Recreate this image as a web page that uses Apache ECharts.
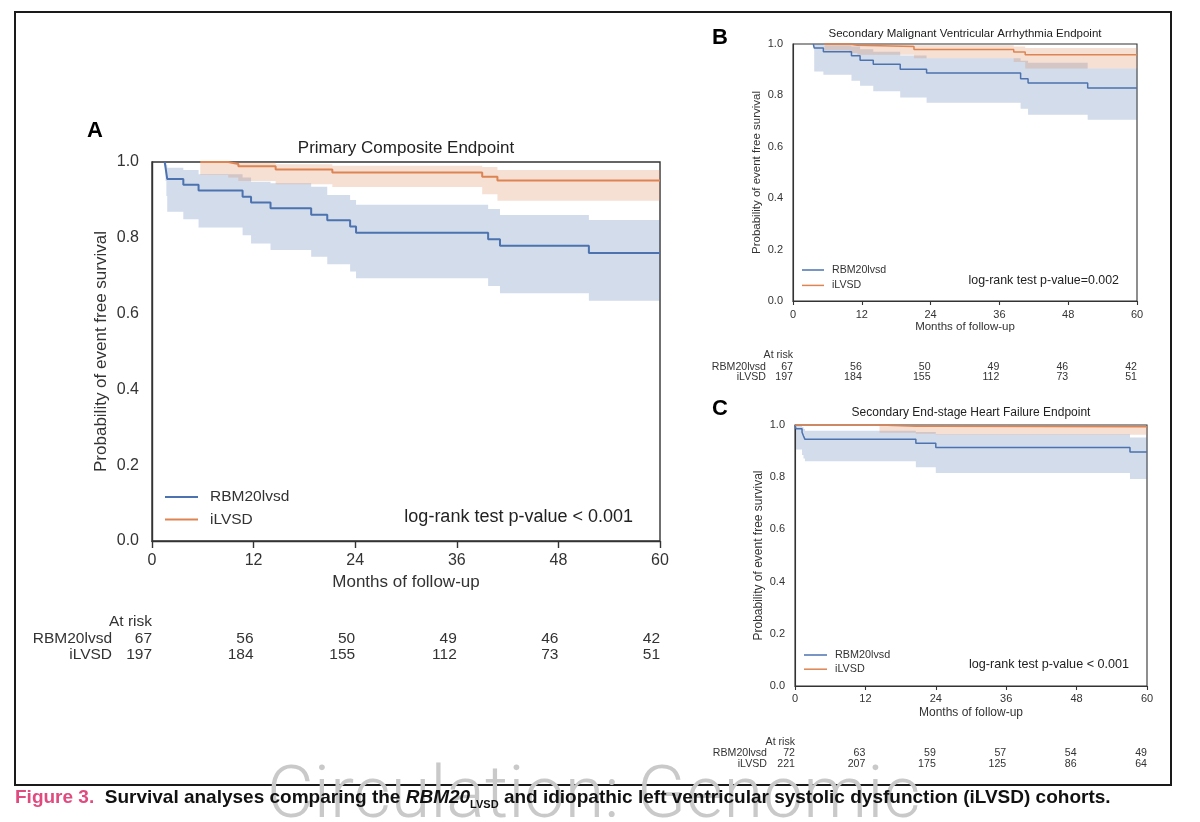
<!DOCTYPE html>
<html>
<head>
<meta charset="utf-8">
<title>Figure 3 - survival analyses</title>
<script src="https://cdn.jsdelivr.net/npm/echarts@6/dist/echarts.min.js"></script>
<style>
  html, body { margin: 0; padding: 0; background: #fff; }
  #main { width: 1200px; height: 822px; }
</style>
</head>
<body>
<div id="main"></div>
<script>
// ---- data (months, survival probability, 95% CI) ----
const riskMonths = [0, 12, 24, 36, 48, 60];

// A: primary composite endpoint
const aRbmT  = [1.5, 1.6, 1.7, 1.8, 3.7, 5.5, 10.7, 11.7, 14.0, 18.8, 20.7, 23.4, 24.1, 39.7, 41.1, 51.6, 60];
const aRbmS  = [1.0, 0.985, 0.970, 0.955, 0.940, 0.925, 0.908, 0.893, 0.878, 0.861, 0.846, 0.830, 0.813, 0.796, 0.779, 0.760, 0.760];
const aRbmLo = [1.0, 0.950, 0.910, 0.869, 0.849, 0.827, 0.807, 0.785, 0.768, 0.750, 0.730, 0.711, 0.693, 0.673, 0.654, 0.634, 0.634];
const aRbmHi = [1.0, 0.998, 0.992, 0.985, 0.979, 0.968, 0.959, 0.948, 0.944, 0.935, 0.913, 0.900, 0.887, 0.876, 0.860, 0.847, 0.847];
const aIlvT  = [5.7, 9.0, 10.2, 14.6, 21.3, 39.0, 40.8, 60];
const aIlvS  = [1.0, 0.995, 0.989, 0.980, 0.972, 0.961, 0.951, 0.951];
const aIlvLo = [0.966, 0.959, 0.950, 0.941, 0.934, 0.915, 0.898, 0.898];
const aIlvHi = [1.0, 1.0, 1.0, 0.994, 0.990, 0.987, 0.979, 0.979];
const aRiskRbm = [67, 56, 50, 49, 46, 42];
const aRiskIlv = [197, 184, 155, 112, 73, 51];

// B: secondary malignant ventricular arrhythmia endpoint
const bRbmT  = [3.55, 3.7, 5.3, 10.2, 11.7, 14.0, 18.7, 23.3, 39.7, 41.0, 51.4, 60];
const bRbmS  = [1.0, 0.984, 0.970, 0.954, 0.937, 0.921, 0.902, 0.887, 0.865, 0.848, 0.829, 0.829];
const bRbmLo = [1.0, 0.893, 0.880, 0.857, 0.838, 0.816, 0.792, 0.771, 0.748, 0.725, 0.705, 0.705];
const bRbmHi = [1.0, 1.0, 0.995, 0.990, 0.980, 0.970, 0.955, 0.945, 0.935, 0.927, 0.905, 0.905];
const bIlvT  = [5.5, 9.8, 11.2, 21.1, 38.5, 40.5, 60];
const bIlvS  = [1.0, 0.995, 0.990, 0.979, 0.969, 0.958, 0.958];
const bIlvLo = [0.975, 0.965, 0.958, 0.945, 0.930, 0.905, 0.905];
const bIlvHi = [1.0, 1.0, 1.0, 0.995, 0.990, 0.984, 0.984];
const bRiskRbm = [67, 56, 50, 49, 46, 42];
const bRiskIlv = [197, 184, 155, 112, 73, 51];

// C: secondary end-stage heart failure endpoint
const cRbmT  = [0, 0.15, 1.2, 1.45, 1.7, 20.6, 24.0, 57.1, 60];
const cRbmS  = [1.0, 0.986, 0.972, 0.958, 0.945, 0.930, 0.914, 0.897, 0.897];
const cRbmLo = [1.0, 0.906, 0.885, 0.872, 0.861, 0.838, 0.816, 0.793, 0.793];
const cRbmHi = [1.0, 0.998, 0.992, 0.985, 0.978, 0.973, 0.965, 0.952, 0.952];
const cIlvT  = [0, 14.4, 20.6, 24.0, 60];
const cIlvS  = [1.0, 0.995, 0.995, 0.993, 0.993];
const cIlvLo = [1.0, 0.970, 0.966, 0.963, 0.963];
const cIlvHi = [1.0, 1.0, 1.0, 0.999, 0.999];
const cRiskRbm = [72, 63, 59, 57, 54, 49];
const cRiskIlv = [221, 207, 175, 125, 86, 64];

const groups = ['RBM20lvsd', 'iLVSD'];
const BLUE = '#4c72b0';
const ORANGE = '#dd8452';
const BLUE_BAND = 'rgba(76,114,176,0.25)';
const ORANGE_BAND = 'rgba(221,132,82,0.25)';
const FONT = '"Liberation Sans", Arial, Helvetica, sans-serif';
const INK = '#333';

// layout of the three panels (pixels)
const panels = [
  { // A
    grid: { left: 152, top: 162, width: 508, height: 379 },
    risk: { left: 152, top: 631, width: 508, height: 32 },
    tick: 16, name: 17, xMargin: 12, yMargin: 13, xGap: 33, yGap: 42, tickLen: 7, lw: 1.4, line: 2,
    riskFont: 15.5, riskMargin: 40, riskGap: 9,
    title: 'Primary Composite Endpoint', titleX: 406, titleY: 148, titleSize: 17,
    letter: 'A', letterX: 87, letterY: 131,
    legend: { left: 165, top: 489, w: 33, font: 15.5, gap: 6.5, pad: 7 },
    pText: 'log-rank test p-value < 0.001', pX: 633, pY: 517, pSize: 18
  },
  { // B
    grid: { left: 793, top: 44, width: 344, height: 257 },
    risk: { left: 793, top: 361.4, width: 344, height: 21.2 },
    tick: 11, name: 11.5, xMargin: 8, yMargin: 10, xGap: 20, yGap: 30, tickLen: 4, lw: 1.1, line: 1.5,
    riskFont: 10.6, riskMargin: 27, riskGap: 6.4,
    title: 'Secondary Malignant Ventricular Arrhythmia Endpoint', titleX: 965, titleY: 34, titleSize: 11.5,
    letter: 'B', letterX: 712, letterY: 38,
    legend: { left: 802, top: 264.5, w: 22, font: 10.6, gap: 4.4, pad: 3 },
    pText: 'log-rank test p-value=0.002', pX: 1119, pY: 281, pSize: 12.4
  },
  { // C
    grid: { left: 795, top: 425, width: 352, height: 261 },
    risk: { left: 795, top: 747, width: 352, height: 22.6 },
    tick: 11, name: 12, xMargin: 7.5, yMargin: 10, xGap: 21, yGap: 30, tickLen: 4, lw: 1.1, line: 1.5,
    riskFont: 10.6, riskMargin: 28, riskGap: 5.4,
    title: 'Secondary End-stage Heart Failure Endpoint', titleX: 971, titleY: 413, titleSize: 12,
    letter: 'C', letterX: 712, letterY: 409,
    legend: { left: 804, top: 649.5, w: 23, font: 10.8, gap: 3.2, pad: 3 },
    pText: 'log-rank test p-value < 0.001', pX: 1129, pY: 665, pSize: 12.6
  }
];

const curves = [
  { rbm: [aRbmT, aRbmS, aRbmLo, aRbmHi], ilv: [aIlvT, aIlvS, aIlvLo, aIlvHi], risk: [aRiskRbm, aRiskIlv] },
  { rbm: [bRbmT, bRbmS, bRbmLo, bRbmHi], ilv: [bIlvT, bIlvS, bIlvLo, bIlvHi], risk: [bRiskRbm, bRiskIlv] },
  { rbm: [cRbmT, cRbmS, cRbmLo, cRbmHi], ilv: [cIlvT, cIlvS, cIlvLo, cIlvHi], risk: [cRiskRbm, cRiskIlv] }
];

const zip = (t, v) => t.map((x, i) => [x, v[i]]);

// step line of a Kaplan-Meier estimate
function kmLine(name, t, s, color, width, idx) {
  return {
    type: 'line', name: name, xAxisIndex: idx, yAxisIndex: idx,
    step: 'end', symbol: 'none', clip: false, silent: true, z: 4,
    data: zip(t, s),
    lineStyle: { color: color, width: width },
    itemStyle: { color: color }
  };
}

// confidence band as one step-shaped polygon through the axis scales
function ciBand(name, t, lo, hi, fill, idx) {
  const rows = t.map((x, i) => [x, lo[i], hi[i]]);
  return {
    type: 'custom', name: name, xAxisIndex: idx, yAxisIndex: idx, silent: true, z: 2,
    data: rows,
    encode: { x: 0, y: [1, 2] },
    renderItem: function (params, api) {
      if (params.dataIndex !== 0) return null;
      const upper = [], lower = [];
      rows.forEach(function (r, i) {
        const next = i < rows.length - 1 ? rows[i + 1][0] : r[0];
        upper.push(api.coord([r[0], r[2]]), api.coord([next, r[2]]));
        lower.push(api.coord([r[0], r[1]]), api.coord([next, r[1]]));
      });
      return {
        type: 'polygon',
        shape: { points: upper.concat(lower.reverse()) },
        style: { fill: fill }
      };
    }
  };
}

const grids = [], xAxes = [], yAxes = [], series = [], legends = [], graphics = [];

panels.forEach(function (p, i) {
  const c = curves[i];
  grids.push(Object.assign({ show: true, borderColor: INK, borderWidth: p.lw, backgroundColor: 'transparent', outerBoundsMode: 'none', containLabel: false }, p.grid));
  xAxes.push({
    gridIndex: i, type: 'value', min: 0, max: 60, interval: 12,
    name: 'Months of follow-up', nameLocation: 'middle', nameGap: p.xGap,
    nameTextStyle: { fontSize: p.name, color: INK, fontFamily: FONT },
    axisLine: { show: true, onZero: false, lineStyle: { color: INK, width: p.lw } },
    axisTick: { show: true, length: p.tickLen, lineStyle: { color: INK, width: p.lw } },
    axisLabel: { fontSize: p.tick, color: INK, margin: p.xMargin, fontFamily: FONT, hideOverlap: false, showMinLabel: true, showMaxLabel: true },
    splitLine: { show: false }
  });
  yAxes.push({
    gridIndex: i, type: 'value', min: 0, max: 1, interval: 0.2,
    name: 'Probability of event free survival', nameLocation: 'middle', nameGap: p.yGap, nameRotate: 90,
    nameTextStyle: { fontSize: p.name, color: INK, fontFamily: FONT },
    axisLine: { show: true, onZero: false, lineStyle: { color: INK, width: p.lw } },
    axisTick: { show: false },
    axisLabel: { fontSize: p.tick, color: INK, margin: p.yMargin, fontFamily: FONT, formatter: v => v.toFixed(1), hideOverlap: false, showMinLabel: true, showMaxLabel: true },
    splitLine: { show: false }
  });

  series.push(ciBand('band' + i + 'r', c.rbm[0], c.rbm[2], c.rbm[3], BLUE_BAND, i));
  series.push(ciBand('band' + i + 'i', c.ilv[0], c.ilv[2], c.ilv[3], ORANGE_BAND, i));
  series.push(kmLine(groups[0], c.rbm[0], c.rbm[1], BLUE, p.line, i));
  series.push(kmLine(groups[1], c.ilv[0], c.ilv[1], ORANGE, p.line, i));

  legends.push({
    data: groups, orient: 'vertical', left: p.legend.left, top: p.legend.top, padding: 0,
    icon: 'rect', itemWidth: p.legend.w, itemHeight: p.line, itemGap: p.legend.gap,
    selectedMode: false,
    textStyle: { fontSize: p.legend.font, color: INK, fontFamily: FONT, padding: [0, 0, 0, p.legend.pad] }
  });

  graphics.push(
    { type: 'text', x: p.titleX, y: p.titleY, style: { text: p.title, fontSize: p.titleSize, fontFamily: FONT, fill: '#222', align: 'center', verticalAlign: 'middle' } },
    { type: 'text', x: p.letterX, y: p.letterY, style: { text: p.letter, fontSize: 22, fontWeight: 'bold', fontFamily: FONT, fill: '#000', align: 'left', verticalAlign: 'middle' } },
    { type: 'text', x: p.pX, y: p.pY, z: 10, style: { text: p.pText, fontSize: p.pSize, fontFamily: FONT, fill: '#222', align: 'right', verticalAlign: 'middle' } }
  );
});

// at-risk tables, placed on their own grids sharing the 0-60 month scale
panels.forEach(function (p, i) {
  const gi = 3 + i;
  const c = curves[i];
  grids.push(Object.assign({ show: false, outerBoundsMode: 'none', containLabel: false }, p.risk));
  xAxes.push({ gridIndex: gi, type: 'value', min: 0, max: 60, interval: 12, show: false });
  yAxes.push({
    gridIndex: gi, type: 'category', data: groups.slice().reverse(),
    name: 'At risk', nameLocation: 'end', nameGap: p.riskGap,
    nameTextStyle: { fontSize: p.riskFont, color: INK, fontFamily: FONT, align: 'right', verticalAlign: 'middle' },
    axisLine: { show: false }, axisTick: { show: false }, splitLine: { show: false },
    axisLabel: { interval: 0, hideOverlap: false, fontSize: p.riskFont, color: INK, margin: p.riskMargin, fontFamily: FONT }
  });
  const rows = [];
  groups.forEach(function (g, k) {
    riskMonths.forEach(function (m, j) { rows.push([m, g, c.risk[k][j]]); });
  });
  series.push({
    type: 'scatter', xAxisIndex: gi, yAxisIndex: gi, clip: false, silent: true,
    symbolSize: 0, itemStyle: { color: INK, opacity: 1 },
    data: rows,
    label: { show: true, position: 'left', distance: 0, opacity: 1, formatter: q => String(q.value[2]), fontSize: p.riskFont, color: INK, fontFamily: FONT }
  });
});

// outer frame, watermark and caption
graphics.unshift({ type: 'rect', z: 0, shape: { x: 15, y: 12, width: 1156, height: 773 }, style: { fill: 'none', stroke: '#1a1a1a', lineWidth: 2 } });
graphics.push(
  { type: 'text', x: 267, y: 799, z: 20, style: { text: 'Circulation: Genomic', fontSize: 72, fontWeight: 300, fontFamily: 'Roboto, "Liberation Sans", Arial, sans-serif', fill: '#c9c9c9', align: 'left', verticalAlign: 'middle' } },
  {
    type: 'text', x: 15, y: 798, z: 30,
    style: {
      text: '{f|Figure 3.}{b|  Survival analyses comparing the }{i|RBM20}{s|LVSD}{b| and idiopathic left ventricular systolic dysfunction (iLVSD) cohorts.}',
      align: 'left', verticalAlign: 'middle',
      rich: {
        f: { fill: '#e04a7f', fontSize: 19, fontWeight: 'bold', fontFamily: FONT, lineHeight: 24 },
        b: { fill: '#111', fontSize: 19, fontWeight: 'bold', fontFamily: FONT, lineHeight: 24 },
        i: { fill: '#111', fontSize: 19, fontWeight: 'bold', fontStyle: 'italic', fontFamily: FONT, lineHeight: 24 },
        s: { fill: '#111', fontSize: 11, fontWeight: 'bold', fontFamily: FONT, lineHeight: 11, verticalAlign: 'bottom' }
      }
    }
  }
);

const chart = echarts.init(document.getElementById('main'));
chart.setOption({
  backgroundColor: '#fff',
  animation: false,
  textStyle: { fontFamily: FONT },
  grid: grids,
  xAxis: xAxes,
  yAxis: yAxes,
  legend: legends,
  series: series,
  graphic: graphics
});
</script>
</body>
</html>
